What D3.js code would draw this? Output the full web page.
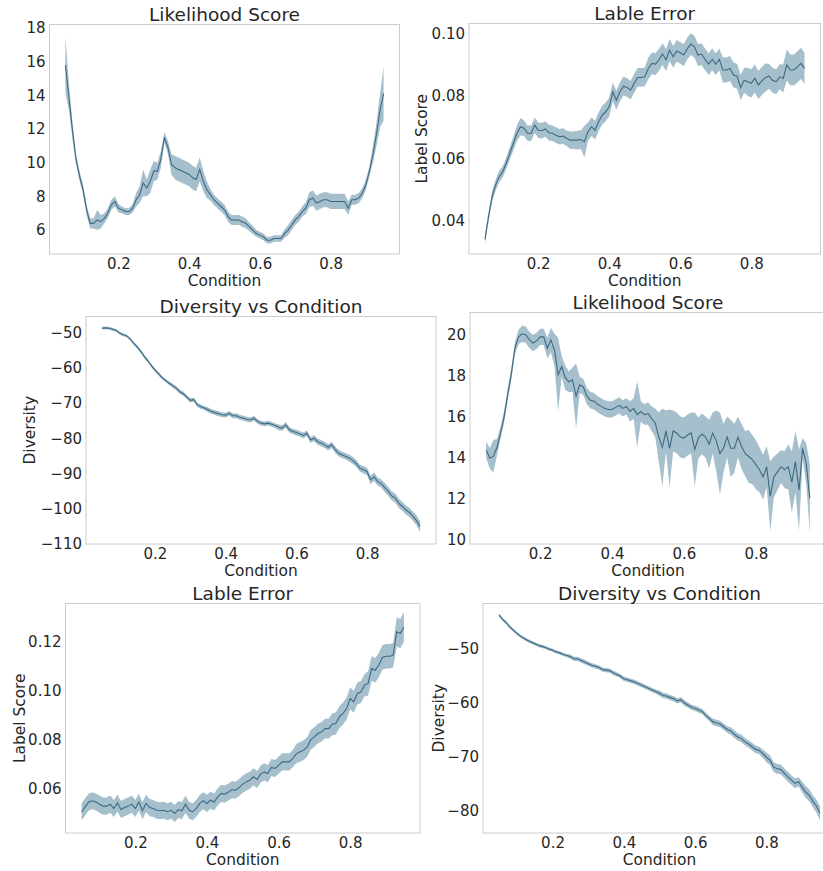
<!DOCTYPE html>
<html><head><meta charset="utf-8">
<script src="https://cdn.jsdelivr.net/npm/d3@7"></script>
<style>
html,body{margin:0;padding:0;background:#fff;}
svg text{font-family:"DejaVu Sans",sans-serif;fill:#262626;}
</style></head>
<body><svg id="c" width="823" height="871"></svg>
<script>
const condition = [0.05,0.06,0.07,0.08,0.09,0.10,0.11,0.12,0.13,0.14,
0.15,0.16,0.17,0.18,0.19,0.20,0.21,0.22,0.23,0.24,
0.25,0.26,0.27,0.28,0.29,0.30,0.31,0.32,0.33,0.34,
0.35,0.36,0.37,0.38,0.39,0.40,0.41,0.42,0.43,0.44,
0.45,0.46,0.47,0.48,0.49,0.50,0.51,0.52,0.53,0.54,
0.55,0.56,0.57,0.58,0.59,0.60,0.61,0.62,0.63,0.64,
0.65,0.66,0.67,0.68,0.69,0.70,0.71,0.72,0.73,0.74,
0.75,0.76,0.77,0.78,0.79,0.80,0.81,0.82,0.83,0.84,
0.85,0.86,0.87,0.88,0.89,0.90,0.91,0.92,0.93,0.94,0.95];

const likelihoodA = [15.8,13.9,11.9,10.2,9.2,8.4,7.2,6.4,6.4,6.6,
6.5,6.7,7.0,7.5,7.7,7.3,7.2,7.1,7.1,7.3,
7.8,8.1,8.8,8.5,8.9,9.5,9.5,10.2,11.5,10.9,
9.9,9.7,9.6,9.5,9.4,9.3,9.1,9.0,9.6,8.9,
8.4,8.1,7.8,7.6,7.4,7.2,6.8,6.6,6.6,6.6,
6.5,6.4,6.2,6.0,5.8,5.7,5.6,5.4,5.4,5.5,
5.5,5.5,5.8,6.0,6.3,6.6,6.8,7.1,7.3,7.8,
7.9,7.6,7.7,7.8,7.8,7.7,7.7,7.7,7.7,7.7,
7.3,7.8,7.8,7.9,8.2,8.7,9.5,10.5,11.7,13.1,14.1];
const likelihoodAErr = [1.7,0.8,0.5,0.3,0.3,0.3,0.3,0.3,0.3,0.6,
0.4,0.3,0.3,0.3,0.3,0.25,0.2,0.2,0.2,0.25,
0.4,0.5,0.8,0.5,0.7,0.6,0.5,0.5,0.3,0.4,
0.6,0.7,0.7,0.7,0.7,0.7,0.7,0.7,0.7,0.6,
0.5,0.35,0.3,0.3,0.3,0.3,0.3,0.3,0.3,0.3,
0.3,0.3,0.25,0.25,0.2,0.2,0.2,0.2,0.2,0.2,
0.2,0.2,0.25,0.3,0.3,0.3,0.3,0.3,0.35,0.45,
0.45,0.45,0.45,0.45,0.45,0.45,0.45,0.45,0.45,0.45,
0.4,0.3,0.3,0.3,0.3,0.3,0.3,0.5,0.7,1.0,1.6];

const labelErrA = [0.034,0.0413,0.0477,0.0514,0.0541,0.0557,0.0584,0.0616,0.0648,0.068,
0.0701,0.0696,0.068,0.068,0.0706,0.069,0.0688,0.0694,0.0682,0.068,
0.0674,0.0669,0.0671,0.0664,0.0658,0.0658,0.0658,0.066,0.0653,0.0685,
0.0701,0.069,0.0717,0.0738,0.0749,0.0765,0.0813,0.0786,0.0813,0.0831,
0.0827,0.0818,0.084,0.0859,0.0859,0.0861,0.0888,0.0904,0.0902,0.0915,
0.0934,0.0915,0.0947,0.0925,0.0944,0.0938,0.0931,0.0952,0.0966,0.0957,
0.0931,0.0934,0.0917,0.0902,0.0917,0.0902,0.0917,0.0883,0.0883,0.0888,
0.0867,0.0863,0.0827,0.085,0.0845,0.084,0.0856,0.0835,0.0848,0.0859,
0.0863,0.085,0.0845,0.0861,0.0856,0.0899,0.0883,0.0883,0.0893,0.0904,0.0888];
const labelErrAErr = [0.0015,0.0015,0.0017,0.0018,0.0018,0.0018,0.0018,0.002,0.0022,0.0025,
0.0028,0.0025,0.0025,0.0025,0.0025,0.0025,0.0025,0.0025,0.0025,0.0025,
0.0025,0.0025,0.0025,0.0025,0.0028,0.0028,0.003,0.003,0.005,0.003,
0.003,0.003,0.003,0.003,0.003,0.003,0.003,0.003,0.003,0.003,
0.003,0.003,0.003,0.003,0.003,0.003,0.0035,0.0035,0.0035,0.0035,
0.0035,0.0035,0.0035,0.0035,0.0035,0.0035,0.0035,0.0035,0.0035,0.0035,
0.0035,0.0035,0.0035,0.0035,0.0035,0.0035,0.0035,0.004,0.004,0.004,
0.004,0.004,0.004,0.004,0.0045,0.0045,0.0045,0.0045,0.0045,0.0045,
0.004,0.004,0.004,0.004,0.0045,0.005,0.005,0.005,0.005,0.005,0.005];

const diversityA = [-48.6,-48.5,-48.6,-48.9,-49.2,-50.0,-50.5,-50.8,-51.7,-52.9,
-54.0,-55.2,-56.7,-57.9,-59.3,-60.5,-61.6,-62.7,-63.5,-64.3,
-65.0,-65.7,-66.7,-67.3,-68.3,-69.2,-69.0,-70.5,-71.0,-71.4,
-71.9,-72.4,-72.7,-73.0,-73.3,-73.4,-72.9,-73.6,-73.6,-74.0,
-74.3,-74.6,-74.8,-74.3,-75.2,-75.7,-75.9,-75.7,-76.0,-76.4,
-76.9,-77.1,-76.2,-77.6,-78.1,-78.4,-78.8,-79.2,-78.6,-80.5,
-80.0,-81.0,-81.4,-81.9,-82.6,-81.9,-83.3,-84.3,-84.8,-85.2,
-85.7,-86.4,-87.3,-88.6,-89.0,-89.5,-91.9,-91.0,-92.4,-92.9,
-94.1,-95.2,-96.5,-97.1,-98.6,-99.5,-100.5,-101.2,-102.3,-103.5,-105.2];
const diversityAErr = [0.4,0.4,0.4,0.4,0.4,0.4,0.4,0.4,0.4,0.4,
0.5,0.5,0.5,0.5,0.5,0.5,0.5,0.5,0.5,0.5,
0.6,0.6,0.6,0.6,0.6,0.6,0.6,0.6,0.6,0.6,
0.7,0.7,0.7,0.7,0.7,0.7,0.7,0.7,0.7,0.7,
0.7,0.7,0.7,0.7,0.7,0.7,0.7,0.7,0.7,0.7,
0.8,0.8,0.8,0.8,0.8,0.8,0.8,0.8,0.8,0.8,
0.9,0.9,0.9,0.9,0.9,0.9,0.9,0.9,0.9,0.9,
1.0,1.0,1.0,1.0,1.1,1.1,1.2,1.2,1.2,1.2,
1.3,1.3,1.3,1.3,1.3,1.3,1.3,1.3,1.3,1.4,1.5];

const likelihoodB = [14.37,13.96,14.05,14.5,15.2,16.0,17.1,18.1,19.35,19.9,
20.05,20.0,19.75,19.6,19.7,19.9,19.9,19.35,19.75,19.25,
18.05,18.45,17.9,17.7,17.8,17.0,17.55,17.45,17.0,16.8,
16.75,16.6,16.5,16.4,16.35,16.35,16.45,16.55,16.4,16.5,
16.25,16.4,16.1,16.25,16.1,16.15,15.9,15.7,15.0,14.5,
15.3,14.45,15.3,15.2,15.0,14.95,15.1,15.2,14.4,14.95,
15.15,15.0,14.65,15.2,14.8,14.2,14.45,15.0,14.45,14.45,
15.0,14.55,14.2,14.05,13.9,13.65,13.4,13.05,13.55,12.1,
13.05,13.3,13.55,13.4,13.55,12.8,13.8,12.4,14.45,13.7,12.0];
const likelihoodBErr = [0.4,0.5,0.8,0.4,0.3,0.3,0.3,0.3,0.3,0.35,
0.4,0.4,0.4,0.4,0.4,0.4,0.4,0.5,0.6,0.8,
1.8,0.5,0.6,0.5,0.6,1.6,0.4,0.4,0.4,0.4,
0.4,0.4,0.4,0.4,0.4,0.4,0.4,0.4,0.4,0.4,
0.5,0.5,1.6,0.5,0.5,0.55,0.6,0.7,1.2,1.9,
1.0,1.9,1.0,1.0,1.0,1.0,1.0,1.0,1.8,1.0,
1.0,1.0,1.2,1.0,1.5,2.0,1.2,1.0,1.4,1.2,
1.0,1.1,1.1,1.3,1.2,1.2,1.1,1.1,1.0,1.7,
1.0,0.9,0.8,0.9,1.1,1.5,1.5,2.0,0.5,1.0,1.7];

const labelErrB = [0.0505,0.0525,0.0545,0.055,0.0545,0.0536,0.0528,0.0528,0.0536,0.0518,
0.0541,0.0514,0.0522,0.0528,0.0536,0.0518,0.0545,0.0509,0.0539,0.0522,
0.0518,0.0511,0.0509,0.0511,0.0505,0.0511,0.0498,0.0514,0.0509,0.0536,
0.0511,0.0505,0.0518,0.0539,0.055,0.0539,0.0552,0.0545,0.0566,0.058,
0.0577,0.0586,0.0596,0.0593,0.0604,0.0618,0.0627,0.0634,0.0648,0.0637,
0.0659,0.0668,0.0661,0.0686,0.0682,0.0695,0.0709,0.0709,0.0709,0.0723,
0.0743,0.075,0.0757,0.077,0.08,0.0811,0.0825,0.0832,0.0845,0.0845,
0.0863,0.0866,0.0893,0.0907,0.0927,0.0968,0.0955,0.0989,0.0995,0.1023,
0.103,0.1091,0.1084,0.1105,0.1136,0.1141,0.1141,0.1145,0.1241,0.1234,0.1261];
const labelErrBErr = [0.0035,0.0035,0.0035,0.0035,0.0035,0.0035,0.0035,0.0035,0.0035,0.0035,
0.0035,0.0035,0.0035,0.0035,0.0035,0.0035,0.0035,0.0035,0.0035,0.0035,
0.0035,0.0035,0.0035,0.0035,0.0035,0.0035,0.0035,0.0035,0.0035,0.0035,
0.0035,0.0035,0.0035,0.0035,0.0035,0.0035,0.0035,0.0035,0.0035,0.0035,
0.0035,0.0035,0.0035,0.0035,0.0035,0.0035,0.0035,0.0035,0.0035,0.0035,
0.0035,0.0035,0.0035,0.0035,0.0035,0.0035,0.0035,0.0035,0.0035,0.0035,
0.004,0.004,0.004,0.004,0.004,0.004,0.004,0.004,0.004,0.004,
0.0045,0.0045,0.0045,0.0045,0.0045,0.0045,0.0045,0.0045,0.0045,0.0045,
0.005,0.005,0.005,0.005,0.005,0.005,0.005,0.005,0.006,0.006,0.006];

const diversityB = [-43.8,-44.6,-45.2,-46.0,-46.6,-47.2,-47.7,-48.1,-48.5,-48.8,
-49.1,-49.4,-49.6,-49.8,-50.1,-50.3,-50.6,-50.8,-51.1,-51.3,
-51.5,-51.9,-51.9,-52.2,-52.5,-52.8,-53.1,-53.3,-53.5,-53.9,
-54.0,-54.1,-54.5,-54.8,-55.1,-55.6,-55.8,-56.0,-56.2,-56.5,
-56.8,-57.1,-57.4,-57.7,-58.0,-58.3,-58.7,-58.8,-59.1,-59.3,
-59.7,-59.5,-60.1,-60.5,-60.9,-61.1,-61.4,-61.7,-62.4,-63.0,
-63.6,-63.8,-64.0,-64.5,-65.0,-65.3,-65.9,-66.4,-66.7,-67.3,
-67.7,-68.2,-68.7,-68.9,-69.5,-70.2,-70.7,-72.0,-72.3,-72.4,
-73.1,-73.8,-74.4,-75.0,-74.7,-75.7,-76.6,-77.2,-78.3,-79.2,-80.5];
const diversityBErr = [0.3,0.3,0.3,0.3,0.3,0.3,0.3,0.3,0.3,0.3,
0.3,0.3,0.3,0.3,0.3,0.3,0.3,0.3,0.3,0.3,
0.4,0.4,0.4,0.4,0.4,0.4,0.4,0.4,0.4,0.4,
0.4,0.4,0.4,0.4,0.4,0.4,0.4,0.4,0.4,0.4,
0.4,0.4,0.4,0.4,0.4,0.5,0.5,0.5,0.5,0.5,
0.5,0.5,0.5,0.5,0.5,0.5,0.5,0.5,0.5,0.5,
0.6,0.6,0.6,0.6,0.6,0.7,0.7,0.7,0.7,0.7,
0.7,0.7,0.7,0.7,0.8,0.9,0.9,0.9,0.9,0.9,
0.9,0.9,0.9,0.9,0.9,1.0,1.1,1.1,1.1,1.2,1.3];

const xTicks = [0.2, 0.4, 0.6, 0.8];
const titles = ["Likelihood Score","Lable Error","Diversity vs Condition","Likelihood Score","Lable Error","Diversity vs Condition"];
const yLabels = ["","Label Score","Diversity","","Label Score","Diversity"];
const yTickSets = [[6,8,10,12,14,16,18],[0.04,0.06,0.08,0.10],[-110,-100,-90,-80,-70,-60,-50],[10,12,14,16,18,20],[0.06,0.08,0.10,0.12],[-80,-70,-60,-50]];
const yTickFormats = ["d",".2f","d","d",".2f","d"];
const yDomains = [[4.58,18.2],[0.0293,0.1032],[-110.2,-45.26],[9.77,21.09],[0.0418,0.1357],[-84.2,-41.65]];
const xDomain = [0.005, 0.995];

// panel frames: left, top, right, bottom ; y-label baseline x
const frames = [
  {l:49.5,t:24.5,r:399.5,b:254,yl:null},
  {l:469,t:23.5,r:820.5,b:254,yl:427},
  {l:86,t:316.5,r:436,b:544,yl:35},
  {l:470,t:312.5,r:826,b:544,yl:null},
  {l:65.5,t:603.5,r:420,b:833,yl:25},
  {l:483,t:603.5,r:836,b:833,yl:443.5}
];
const series = [
  [likelihoodA, likelihoodAErr],
  [labelErrA, labelErrAErr],
  [diversityA, diversityAErr],
  [likelihoodB, likelihoodBErr],
  [labelErrB, labelErrBErr],
  [diversityB, diversityBErr]
];

const svg = d3.select("#c");
const lineColor = "#3c6a84", bandColor = "#a6bfcc";

frames.forEach((f, i) => {
  const x = d3.scaleLinear().domain(xDomain).range([f.l, f.r]);
  const y = d3.scaleLinear().domain(yDomains[i]).range([f.b, f.t]);
  const [mean, err] = series[i];
  const data = condition.map((c, k) => ({x: c, m: mean[k], e: err[k]}));
  const g = svg.append("g");

  const clipId = "clip" + i;
  g.append("clipPath").attr("id", clipId).append("rect")
    .attr("x", f.l).attr("y", f.t).attr("width", f.r - f.l).attr("height", f.b - f.t);

  const plot = g.append("g").attr("clip-path", `url(#${clipId})`);
  plot.append("path").datum(data)
    .attr("fill", bandColor).attr("stroke", "none")
    .attr("d", d3.area().x(d => x(d.x)).y0(d => y(d.m - d.e)).y1(d => y(d.m + d.e)));
  plot.append("path").datum(data)
    .attr("fill", "none").attr("stroke", lineColor).attr("stroke-width", 1.1)
    .attr("d", d3.line().x(d => x(d.x)).y(d => y(d.m)));

  g.append("rect").attr("x", f.l).attr("y", f.t).attr("width", f.r - f.l).attr("height", f.b - f.t)
    .attr("fill", "none").attr("stroke", "#cccccc").attr("stroke-width", 1);

  // x axis
  const xa = g.append("g").attr("transform", `translate(0,${f.b})`)
    .call(d3.axisBottom(x).tickValues(xTicks).tickFormat(d3.format(".1f")).tickSize(0).tickPadding(4));
  xa.select(".domain").remove();
  xa.selectAll("text").attr("font-size", 15).attr("font-family", "DejaVu Sans").attr("fill", "#262626");

  // y axis
  const fmt = yTickFormats[i] === "d" ? (v => d3.format("d")(v)) : d3.format(".2f");
  const ya = g.append("g").attr("transform", `translate(${f.l},0)`)
    .call(d3.axisLeft(y).tickValues(yTickSets[i]).tickFormat(fmt).tickSize(0).tickPadding(4));
  ya.select(".domain").remove();
  ya.selectAll("text").attr("font-size", 15).attr("font-family", "DejaVu Sans").attr("fill", "#262626");

  // title
  g.append("text").attr("x", (f.l + f.r) / 2).attr("y", f.t - 4)
    .attr("text-anchor", "middle").attr("font-size", 18.5).text(titles[i]);
  // x label
  g.append("text").attr("x", (f.l + f.r) / 2).attr("y", f.b + 32)
    .attr("text-anchor", "middle").attr("font-size", 15.4).text("Condition");
  // y label
  if (yLabels[i]) {
    g.append("text").attr("transform", `translate(${f.yl},${(f.t + f.b) / 2}) rotate(-90)`)
      .attr("text-anchor", "middle").attr("font-size", 15.4).text(yLabels[i]);
  }
});
</script></body></html>
